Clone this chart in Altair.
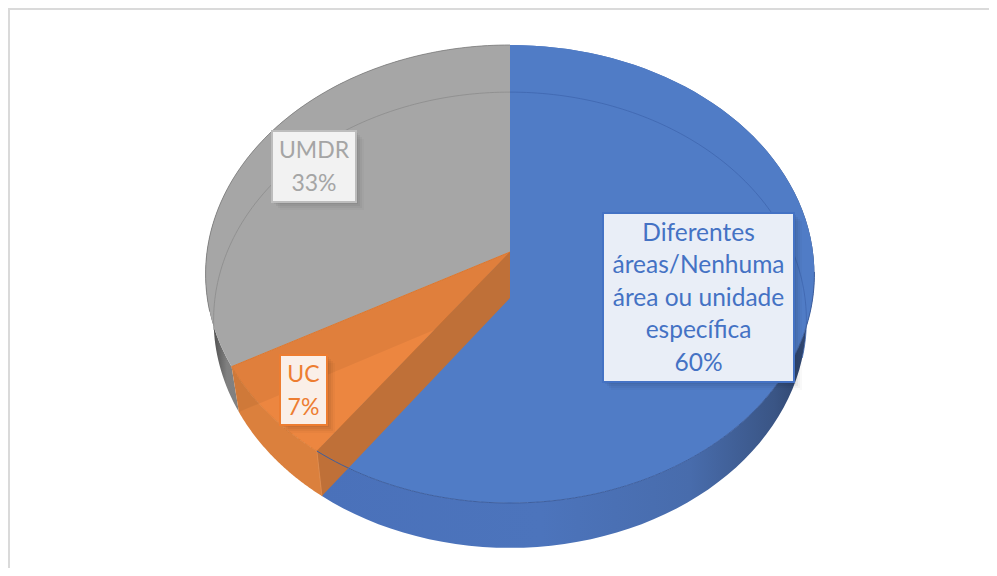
import math
import altair as alt

# ---- values
categories = ["Diferentes áreas/Nenhuma área ou unidade específica", "UC", "UMDR"]
shares = [60, 7, 33]
label_lines = [
    ["Diferentes", "áreas/Nenhuma", "área ou unidade", "específica", "60%"],
    ["UC", "7%"],
    ["UMDR", "33%"],
]
top_colors = ["#507CC6", "#EC8640", "#A6A6A6"]
text_colors = ["#4472C4", "#ED7D31", "#A5A5A5"]
box_fills = ["#E9EEF7", "#FAEFE8", "#F2F2F2"]
box_strokes = ["#4472C4", "#ED7D31", "#BDBDBD"]
font_sizes = [24.5, 23, 23]

# ---- layout of the tilted disc (canvas = image minus 8px margin)
OFF = 8
TOP = dict(cx=510, A=303, B=252, C=202.7, k=-0.0961)
BOT = dict(cx=510, A=295, B=298, C=197.0, k=-0.0965)
BOXES = [(603, 213, 794, 382), (280, 355, 327, 425), (272, 131, 356, 202)]
LINE_STEP = [32.5, 33, 33]
FONT = "Lato"


def pt(face, deg):
    """Perspective image of a point of the unit circle, clockwise from 12 o'clock."""
    t = math.radians(deg)
    X, Y = math.sin(t), -math.cos(t)
    return pt_xy(face, X, Y)


def pt_xy(face, X, Y):
    d = 1 + face["k"] * Y
    return [face["cx"] + face["A"] * X / d - OFF, (face["B"] + face["C"] * Y) / d - OFF]


def arc(face, a, b, n=90):
    return [pt(face, a + (b - a) * i / n) for i in range(n + 1)]


def centre(face):
    return pt_xy(face, 0, 0)


def poly(points):
    return {"type": "Feature", "properties": {},
            "geometry": {"type": "Polygon", "coordinates": [points + [points[0]]]}}


def line(points):
    return {"type": "Feature", "properties": {},
            "geometry": {"type": "LineString", "coordinates": points}}


PROJ = dict(type="identity", scale=1, translate=[0, 0])


def shape(feature, **mark):
    return alt.Chart(alt.InlineData(values=[feature])).mark_geoshape(**mark).project(**PROJ)


def grad(stops):
    return alt.Gradient(gradient="linear", x1=0, x2=1, y1=0, y2=0,
                        stops=[alt.GradientStop(offset=o, color=c) for o, c in stops])


# slice boundaries from the shares
a0 = 0
a1 = a0 + shares[0] * 3.6
a2 = a1 + shares[1] * 3.6
a3 = 360

T, Tb = centre(TOP), centre(BOT)
layers = []

# frame
layers.append(shape(line([[1, 568], [1, 1], [989, 1]]), filled=False, stroke="#DADADA", strokeWidth=2))

# outer walls
layers.append(shape(poly(arc(TOP, a2, a3) + arc(BOT, a3, a2)),
                    fill=grad([(0, "#333333"), (0.03, "#555555"), (0.07, "#808080"), (1, "#9A9A9A")])))
layers.append(shape(poly(arc(TOP, a0, a1) + arc(BOT, a1, a0)),
                    fill=grad([(0, "#4A71BA"), (0.45, "#4C74BC"), (0.75, "#486CAC"),
                               (0.92, "#3A5585"), (1, "#2B3F66")])))

# top faces
layers.append(shape(poly([T] + arc(TOP, a2, a3)), fill=top_colors[2]))
layers.append(shape(poly([T] + arc(TOP, a0, a1)), fill=top_colors[0]))
layers.append(shape(poly([T] + arc(TOP, a1, a2)), fill=top_colors[1], stroke="#E07A30", strokeWidth=1))

# orange outer wall and inner walls
layers.append(shape(poly(arc(TOP, a1, a2) + arc(BOT, a2, a1)), fill="#DB803D"))
layers.append(shape(poly([T, Tb, pt(BOT, a2), pt(TOP, a2)]), fill="#000000", fillOpacity=0.05))
layers.append(shape(poly([T, Tb, pt(BOT, a1), pt(TOP, a1)]), fill="#BF7038"))
layers.append(shape(line([pt(TOP, a1), pt(BOT, a1)]), filled=False, stroke="#E08A4A", strokeWidth=1))

# see-through and rim lines
layers.append(shape(line(arc(BOT, 262, 360)), filled=False, stroke="#8C8C8C", strokeWidth=0.8))
layers.append(shape(line(arc(BOT, 0, 105)), filled=False, stroke="#3F66AE", strokeWidth=0.8))
layers.append(shape(line(arc(TOP, a2 + 14, a3)), filled=False, stroke="#7D7D7D", strokeWidth=0.8))
layers.append(shape(line(arc(TOP, 95, a1)), filled=False, stroke="#3E5F9E", strokeWidth=1))

# data labels
rows = []
for i, lines in enumerate(label_lines):
    x0, y0, x1, y1 = BOXES[i]
    box = [[x0 - OFF, y0 - OFF], [x1 - OFF, y0 - OFF], [x1 - OFF, y1 - OFF], [x0 - OFF, y1 - OFF]]
    for d, op in ((8, 0.025), (6, 0.035), (4, 0.045), (2, 0.05)):
        layers.append(shape(poly([[x + d, y + d] for x, y in box]), fill="#000000", fillOpacity=op))
    layers.append(shape(poly(box), fill=box_fills[i], stroke=box_strokes[i], strokeWidth=2))
    first = (y0 + y1) / 2 - LINE_STEP[i] * (len(lines) - 1) / 2 - OFF
    for j, txt in enumerate(lines):
        rows.append({"x": (x0 + x1) / 2 - OFF, "y": first + j * LINE_STEP[i] + 1,
                     "t": txt, "c": text_colors[i], "s": font_sizes[i]})

layers.append(
    alt.Chart(alt.InlineData(values=rows)).mark_text(font=FONT, align="center", baseline="middle")
    .encode(longitude="x:Q", latitude="y:Q", text="t:N", color=alt.Color("c:N", scale=None),
            size=alt.Size("s:Q", scale=None))
    .project(**PROJ)
)

chart = alt.layer(*layers).properties(
    width=981, height=560, padding=0, autosize="none", background="white"
).configure_view(stroke=None)

chart.save("out.html", embed_options={"renderer": "svg", "actions": False})
